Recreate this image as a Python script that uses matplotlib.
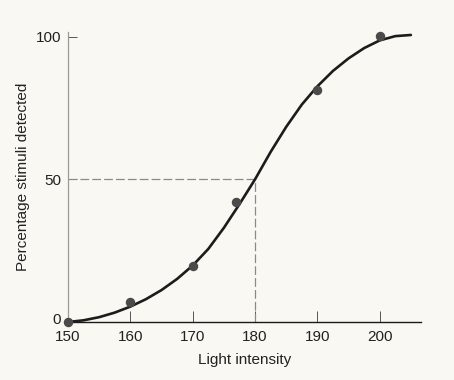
import matplotlib
matplotlib.use("Agg")
import matplotlib.pyplot as plt
import matplotlib.transforms as mtransforms

intensity = [150, 160, 170, 177, 190, 200]
detected = [0, 7.1, 19.6, 42.1, 81.3, 100.4]

# fitted psychometric curve
curve_x = [150, 152.5, 155, 157.5, 160, 162.5, 165, 167.5, 170, 172.5, 175, 177.5,
           180, 182.5, 185, 187.5, 190, 192.5, 195, 197.5, 200, 202.5, 205]
curve_y = [0, 0.6, 1.7, 3.3, 5.4, 8.0, 11.2, 15.1, 19.8, 25.6, 33.0, 41.3,
           50.0, 59.6, 68.4, 76.2, 82.6, 88.0, 92.4, 96.0, 98.7, 100.2, 100.6]

threshold_x = 180
threshold_y = 50

x_ticks = [150, 160, 170, 180, 190, 200]
y_ticks = [0, 50, 100]

BG = "#f9f8f2"
plt.rcParams["font.family"] = ["Liberation Sans", "DejaVu Sans"]

fig = plt.figure(figsize=(4.54, 3.8), dpi=100, facecolor=BG)
ax = fig.add_axes([0.1498, 0.1526, 0.7772, 0.7621], facecolor=BG)

ax.plot(curve_x, curve_y, color="#1c1c1c", lw=1.9, solid_capstyle="round",
        solid_joinstyle="round", clip_on=False, zorder=3)
ax.plot(intensity, detected, "o", ms=5.8, color="#4a4a4a", clip_on=False, zorder=4)

# 50% threshold guides
ax.plot([150, threshold_x], [threshold_y, threshold_y], color="#8a8a8a",
        lw=0.9, dashes=(7, 2.5), zorder=2)
ax.plot([threshold_x, threshold_x], [0, threshold_y], color="#8a8a8a",
        lw=0.9, dashes=(7, 2.5), zorder=2)

ax.set_xlim(150, 206.6)
ax.set_ylim(0, 101.5)
ax.set_xticks(x_ticks)
ax.set_yticks(y_ticks)

for side in ("top", "right"):
    ax.spines[side].set_visible(False)
ax.spines["bottom"].set_color("#1a1a1a")
ax.spines["bottom"].set_linewidth(1.0)
ax.spines["left"].set_color("#9a9a9a")
ax.spines["left"].set_linewidth(0.9)

ax.tick_params(axis="x", direction="in", length=8, width=0.7, color="#555555",
               labelsize=11, labelcolor="#222222", pad=5.5)
ax.tick_params(axis="y", direction="in", length=6.5, width=0.7, color="#555555",
               labelsize=11, labelcolor="#222222", pad=5)

# the "0" sits a little above the axis line, clear of "150"
zero_lbl = ax.get_yticklabels()[0]
zero_lbl.set_transform(zero_lbl.get_transform() +
                       mtransforms.ScaledTranslation(0, 4 / 100, fig.dpi_scale_trans))

ax.set_xlabel("Light intensity", fontsize=11, color="#222222", labelpad=7)
ax.set_ylabel("Percentage stimuli detected", fontsize=11, color="#222222", labelpad=4)

fig.savefig("out.png", dpi=100, facecolor=BG)
